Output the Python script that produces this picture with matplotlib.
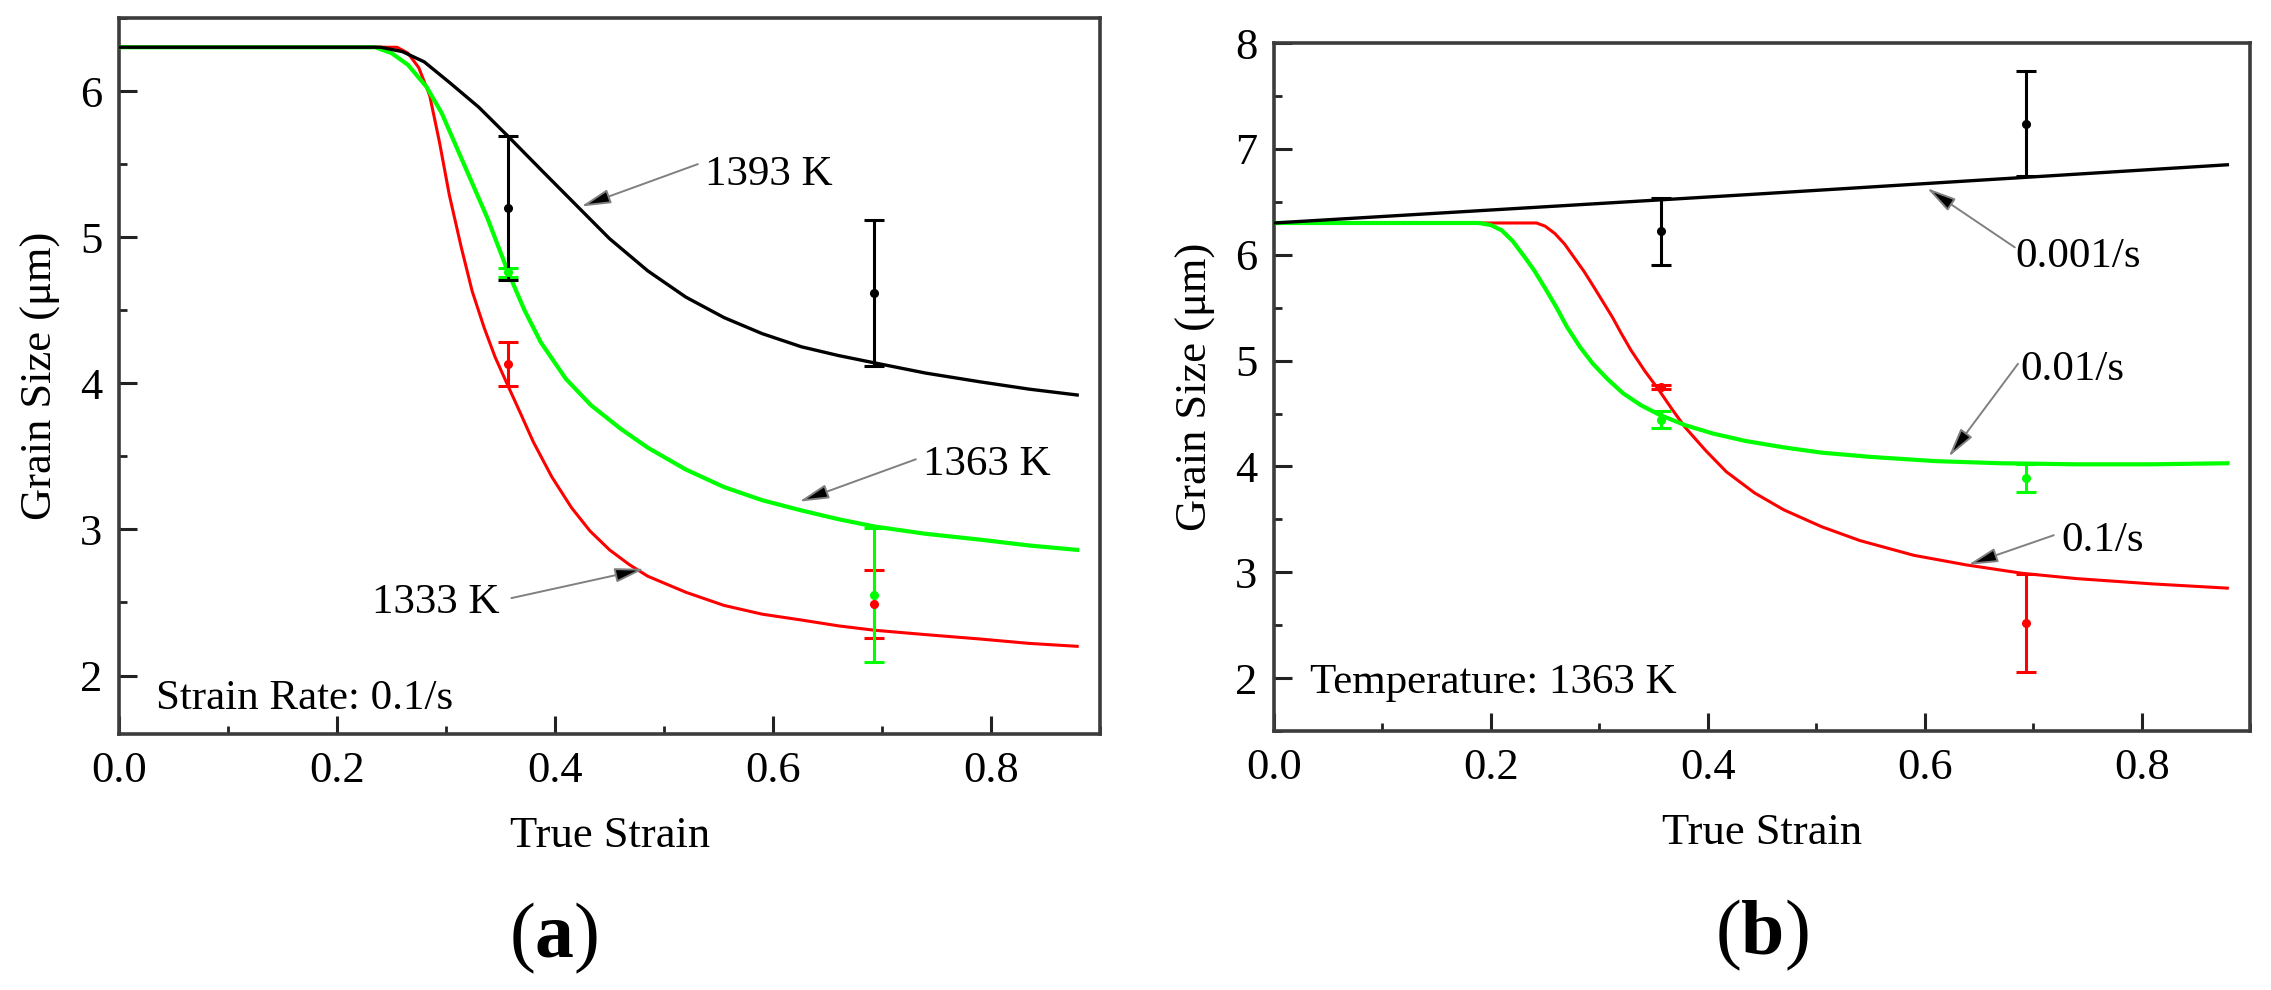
import matplotlib
matplotlib.use("Agg")
import matplotlib.pyplot as plt
from matplotlib.ticker import MultipleLocator

plt.rcParams['font.family'] = ['Liberation Serif', 'DejaVu Serif']
plt.rcParams['mathtext.fontset'] = 'custom'
plt.rcParams['mathtext.rm'] = 'Liberation Serif'
plt.rcParams['mathtext.bf'] = 'Liberation Serif:bold'

# ---------------- data: panel (a), strain rate 0.1/s ----------------
strain_1393 = [0, 0.24, 0.26, 0.28, 0.303, 0.33, 0.357, 0.39, 0.422, 0.45, 0.485, 0.52,
               0.555, 0.59, 0.626, 0.66, 0.693, 0.74, 0.79, 0.835, 0.879]
gs_1393 = [6.3, 6.3, 6.27, 6.2, 6.06, 5.89, 5.69, 5.44, 5.20, 4.99, 4.77, 4.59,
           4.45, 4.34, 4.25, 4.19, 4.14, 4.07, 4.01, 3.96, 3.92]

strain_1363 = [0, 0.235, 0.25, 0.265, 0.282, 0.296, 0.31, 0.324, 0.338, 0.357, 0.372, 0.387,
               0.41, 0.433, 0.46, 0.485, 0.52, 0.555, 0.59, 0.626, 0.66, 0.693, 0.74, 0.79,
               0.835, 0.879]
gs_1363 = [6.3, 6.3, 6.26, 6.18, 6.03, 5.85, 5.61, 5.37, 5.13, 4.76, 4.50, 4.28,
           4.03, 3.85, 3.69, 3.56, 3.41, 3.29, 3.20, 3.13, 3.07, 3.02, 2.97, 2.93,
           2.89, 2.86]

strain_1333 = [0, 0.255, 0.265, 0.275, 0.285, 0.294, 0.303, 0.314, 0.324, 0.335, 0.345, 0.357,
               0.368, 0.38, 0.397, 0.415, 0.432, 0.45, 0.468, 0.485, 0.52, 0.555, 0.59, 0.626,
               0.66, 0.693, 0.74, 0.79, 0.835, 0.879]
gs_1333 = [6.3, 6.3, 6.26, 6.16, 5.97, 5.65, 5.29, 4.93, 4.63, 4.38, 4.18, 3.98,
           3.80, 3.60, 3.36, 3.15, 2.99, 2.86, 2.76, 2.68, 2.57, 2.48, 2.42, 2.38,
           2.34, 2.31, 2.28, 2.25, 2.22, 2.20]

exp_strain = [0.357, 0.693]
exp_1393 = [5.20, 4.62]
err_1393 = [0.49, 0.50]
exp_1363 = [4.76, 2.55]
err_1363 = [0.03, 0.46]
exp_1333 = [4.13, 2.49]
err_1333 = [0.15, 0.23]

# ---------------- data: panel (b), temperature 1363 K ----------------
strain_r001 = [0, 0.44, 0.879]
gs_r001 = [6.3, 6.57, 6.85]

strain_r01 = [0, 0.189, 0.2, 0.21, 0.22, 0.231, 0.24, 0.249, 0.26, 0.27, 0.282, 0.294,
              0.308, 0.322, 0.338, 0.355, 0.379, 0.405, 0.435, 0.47, 0.505, 0.55, 0.61,
              0.67, 0.74, 0.81, 0.879]
gs_r01 = [6.3, 6.3, 6.28, 6.23, 6.13, 5.98, 5.85, 5.70, 5.51, 5.32, 5.13, 4.97,
          4.82, 4.69, 4.58, 4.49, 4.39, 4.31, 4.24, 4.18, 4.13, 4.09, 4.05,
          4.03, 4.02, 4.02, 4.03]

strain_r1 = [0, 0.242, 0.25, 0.259, 0.268, 0.277, 0.286, 0.294, 0.303, 0.312, 0.32, 0.329,
             0.342, 0.355, 0.367, 0.379, 0.398, 0.417, 0.443, 0.47, 0.505, 0.54, 0.59,
             0.638, 0.69, 0.74, 0.81, 0.879]
gs_r1 = [6.3, 6.3, 6.27, 6.2, 6.1, 5.97, 5.84, 5.71, 5.56, 5.41, 5.26, 5.10,
         4.90, 4.72, 4.54, 4.37, 4.15, 3.95, 3.75, 3.59, 3.43, 3.30, 3.16,
         3.07, 2.99, 2.94, 2.89, 2.85]

exp_r001 = [6.22, 7.24]
err_r001 = [0.32, 0.50]
exp_r01 = [4.44, 3.89]
err_r01 = [0.08, 0.13]
exp_r1 = [4.75, 2.52]
err_r1 = [0.02, 0.46]

x_ticks = [0.0, 0.2, 0.4, 0.6, 0.8]
x_ticklabels = ['0.0', '0.2', '0.4', '0.6', '0.8']
ya_ticks = [2, 3, 4, 5, 6]
yb_ticks = [2, 3, 4, 5, 6, 7, 8]

BLACK, GREEN, RED = '#000000', '#00ff00', '#ff0000'
SPINE = '#3c3c3c'
FS = 32

fig = plt.figure(figsize=(22.71, 9.90), dpi=100)
axa = fig.add_axes([0.0524, 0.2586, 0.4320, 0.7232])
axb = fig.add_axes([0.5610, 0.2616, 0.4298, 0.6949])


def style(ax, yticks, ylim):
    ax.set_xlim(0, 0.9)
    ax.set_ylim(*ylim)
    ax.set_xticks(x_ticks)
    ax.set_xticklabels(x_ticklabels)
    ax.set_yticks(yticks)
    ax.xaxis.set_minor_locator(MultipleLocator(0.1))
    ax.yaxis.set_minor_locator(MultipleLocator(0.5))
    ax.tick_params(which='major', direction='in', length=13, width=2.2,
                   labelsize=FS, pad=12, color='#222222', top=False, right=False)
    ax.tick_params(which='minor', direction='in', length=6, width=2.0,
                   color='#222222', top=False, right=False)
    for s in ax.spines.values():
        s.set_linewidth(2.6)
        s.set_color(SPINE)
    ax.set_xlabel('True Strain', fontsize=FS, labelpad=18)
    ax.set_ylabel('Grain Size (μm)', fontsize=FS, labelpad=14)


def ebar(ax, y, e, c):
    ax.errorbar(exp_strain, y, yerr=e, fmt='o', color=c, ms=5.5, elinewidth=2.2,
                capsize=7, capthick=2.2, zorder=4)


arrow_kw = dict(arrowstyle='-|>,head_length=0.9,head_width=0.22', ec='#808080',
                fc='black', lw=1.4, shrinkA=0, shrinkB=0, mutation_scale=20)

# ---- panel (a)
axa.plot(strain_1333, gs_1333, color=RED, lw=2.2, zorder=3)
axa.plot(strain_1363, gs_1363, color=GREEN, lw=3.0, zorder=3)
axa.plot(strain_1393, gs_1393, color=BLACK, lw=2.4, zorder=3)
ebar(axa, exp_1333, err_1333, RED)
ebar(axa, exp_1363, err_1363, GREEN)
ebar(axa, exp_1393, err_1393, BLACK)
style(axa, ya_ticks, (1.6, 6.5))

axa.annotate('', xy=(0.424, 5.21), xytext=(0.531, 5.50), arrowprops=arrow_kw)
axa.text(0.538, 5.43, '1393 K', fontsize=31, ha='left', va='center')
axa.annotate('', xy=(0.624, 3.19), xytext=(0.731, 3.48), arrowprops=arrow_kw)
axa.text(0.738, 3.44, '1363 K', fontsize=31, ha='left', va='center')
axa.annotate('', xy=(0.482, 2.73), xytext=(0.36, 2.53), arrowprops=arrow_kw)
axa.text(0.349, 2.50, '1333 K', fontsize=31, ha='right', va='center')
axa.text(0.034, 1.84, 'Strain Rate: 0.1/s', fontsize=31, ha='left', va='center')

# ---- panel (b)
axb.plot(strain_r1, gs_r1, color=RED, lw=2.2, zorder=3)
axb.plot(strain_r01, gs_r01, color=GREEN, lw=3.0, zorder=3)
axb.plot(strain_r001, gs_r001, color=BLACK, lw=2.4, zorder=3)
ebar(axb, exp_r1, err_r1, RED)
ebar(axb, exp_r01, err_r01, GREEN)
ebar(axb, exp_r001, err_r001, BLACK)
style(axb, yb_ticks, (1.5, 8.0))

axb.annotate('', xy=(0.602, 6.63), xytext=(0.683, 6.07), arrowprops=arrow_kw)
axb.text(0.684, 5.98, '0.001/s', fontsize=31, ha='left', va='center')
axb.annotate('', xy=(0.622, 4.09), xytext=(0.686, 4.97), arrowprops=arrow_kw)
axb.text(0.688, 4.91, '0.01/s', fontsize=31, ha='left', va='center')
axb.annotate('', xy=(0.64, 3.07), xytext=(0.719, 3.35), arrowprops=arrow_kw)
axb.text(0.726, 3.30, '0.1/s', fontsize=31, ha='left', va='center')
axb.text(0.033, 1.96, 'Temperature: 1363 K', fontsize=31, ha='left', va='center')

# panel letters
fig.text(0.2440, 1 - 938 / 990, r'$(\mathbf{a})$', fontsize=56, ha='center', va='center')
fig.text(0.7760, 1 - 935 / 990, r'$(\mathbf{b})$', fontsize=56, ha='center', va='center')

fig.savefig('out.png', dpi=100)
